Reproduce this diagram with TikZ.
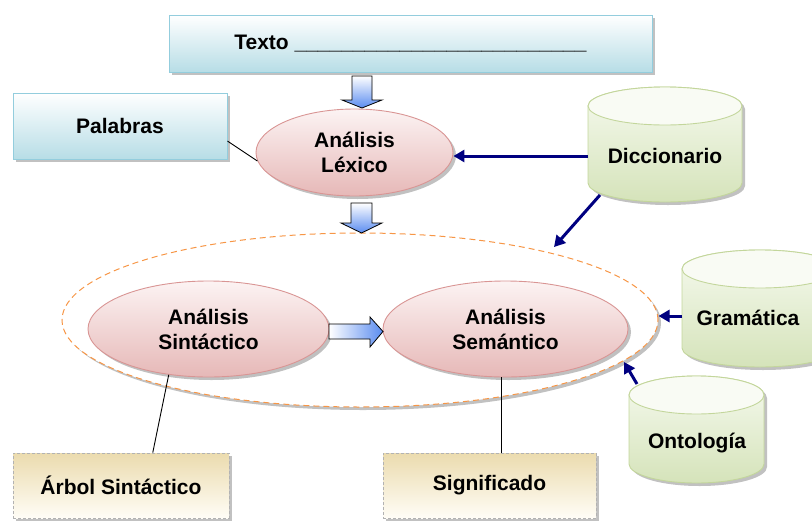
\documentclass[tikz,border=0pt]{standalone}
\usepackage{fontspec}
\setmainfont{Liberation Sans}
\usetikzlibrary{shapes.geometric,shadows,arrows.meta,calc}
\definecolor{bxborder}{HTML}{93CDDD}
\definecolor{bxbot}{HTML}{B7DDE6}
\definecolor{pkborder}{HTML}{D99594}
\definecolor{pktop}{HTML}{FCF3F3}
\definecolor{pkbot}{HTML}{E6B8B7}
\definecolor{gnborder}{HTML}{C3D69B}
\definecolor{gntop}{HTML}{F6FAEF}
\definecolor{gnbot}{HTML}{D5E3BA}
\definecolor{gncap}{HTML}{F9FBF4}
\definecolor{tntop}{HTML}{EBDBAE}
\definecolor{tnbot}{HTML}{FFFDF6}
\definecolor{arrnavy}{HTML}{000080}
\definecolor{orng}{HTML}{F79646}
\definecolor{blkblue}{HTML}{5A8CF0}
\newcommand\cylshape[5]{%
  \path[cylbody] (#1-#2,#3) -- (#1-#2,#4)
     arc[start angle=180,end angle=0,x radius=#2,y radius=#5]
     -- (#1+#2,#3)
     arc[start angle=0,end angle=-180,x radius=#2,y radius=#5] -- cycle;
  \path[cyltop] (#1,#3) ellipse[x radius=#2,y radius=#5];}
\tikzset{
  shad/.style={drop shadow={shadow xshift=3pt,shadow yshift=-3pt,opacity=0.35,fill=black!70}},
  bluebox/.style={rectangle,draw=bxborder,line width=1pt,top color=white,bottom color=bxbot,shad,inner sep=0pt},
  tanbox/.style={rectangle,draw=black!30,densely dashed,line width=0.8pt,top color=tntop,bottom color=tnbot,shad,inner sep=0pt},
  pinkell/.style={ellipse,draw=pkborder,line width=0.9pt,top color=pktop,bottom color=pkbot,shad,align=center,inner sep=0pt},
  cylbody/.style={draw=gnborder,line width=0.9pt,top color=gntop,bottom color=gnbot,shad},
  cyltop/.style={draw=gnborder,line width=0.9pt,fill=gncap},
  navyarrow/.style={draw=arrnavy,line width=3pt,-{Triangle[length=11pt,width=12pt]}},
  thinline/.style={draw=black,line width=0.9pt},
  blockdown/.style={draw=black,line width=0.8pt,top color=white,bottom color=blkblue},
  blockright/.style={draw=black,line width=0.8pt,left color=white,right color=blkblue},
}
\begin{document}
\begin{tikzpicture}[x=1pt,y=-1pt,font=\fontsize{21}{25}\selectfont\bfseries]
\useasboundingbox (0,0) rectangle (812,520);
\clip (0,0) rectangle (812,520);

% top box
\node[bluebox,minimum width=483pt,minimum height=57pt] (texto) at (410.5,43.5)
  {Texto \_\_\_\_\_\_\_\_\_\_\_\_\_\_\_\_\_\_\_\_\_\_\_\_\_};
\node[bluebox,minimum width=214pt,minimum height=66pt] (pal) at (120,126) {Palabras};

% outer dashed ellipse
\node[ellipse,draw=orng,dashed,dash pattern=on 6pt off 4pt,line width=1pt,fill=white,shad,
      minimum width=596pt,minimum height=174pt,inner sep=0pt] (outer) at (360,320) {};

% ellipses
\node[pinkell,minimum width=197pt,minimum height=87pt] (lex) at (354.5,152.5) {Análisis\\Léxico};
\node[pinkell,minimum width=241pt,minimum height=96pt] (sin) at (208.5,329) {Análisis\\Sintáctico};
\node[pinkell,minimum width=245pt,minimum height=96pt] (sem) at (505.5,329) {Análisis\\Semántico};

% cylinders
\cylshape{665}{77}{106}{183}{19}
\node (dic) at (665,156) {Diccionario};
\cylshape{760}{78}{269}{348}{19}
\node (gra) at (748,318) {Gramática};
\cylshape{696.5}{67.5}{395}{464}{19}
\node (ont) at (697,443) {Ontología};

% bottom boxes
\node[tanbox,minimum width=216pt,minimum height=65pt] (arb) at (121,485.5) {Árbol Sintáctico};
\node[tanbox,minimum width=213pt,minimum height=65pt] (sig) at (489.5,485.5) {Significado};

% block arrows
\path[blockdown] (352,76) -- (372,76) -- (372,100) -- (382,100) -- (362,108) -- (342,100) -- (352,100) -- cycle;
\path[blockdown] (351,203) -- (372,203) -- (372,223) -- (382,223) -- (361.5,233) -- (341,223) -- (351,223) -- cycle;
\path[blockright] (329,324) -- (370,324) -- (370,317) -- (383,331.5) -- (370,347) -- (370,339) -- (329,339) -- cycle;

% connectors
\coordinate (dicL) at (588,156);
\coordinate (dicD) at (600,195);
\coordinate (outerDT) at (554,247);
\coordinate (graL) at (682,316);
\coordinate (ontT) at (637,384);
\coordinate (outerOT) at (624,362);
\draw[navyarrow] (dicL) -- (dicL -| lex.east);
\draw[navyarrow] (dicD) -- (outerDT);
\draw[navyarrow] (graL) -- (graL -| outer.east);
\draw[navyarrow] (ontT) -- (outerOT);

\draw[thinline] (pal.-8) -- (lex.185);
\draw[thinline] (sin.229) -- (arb.46);
\draw[thinline] ([xshift=-4.5pt]sem.south) -- ([xshift=-4.5pt]sem.south |- sig.north);
\end{tikzpicture}
\end{document}
